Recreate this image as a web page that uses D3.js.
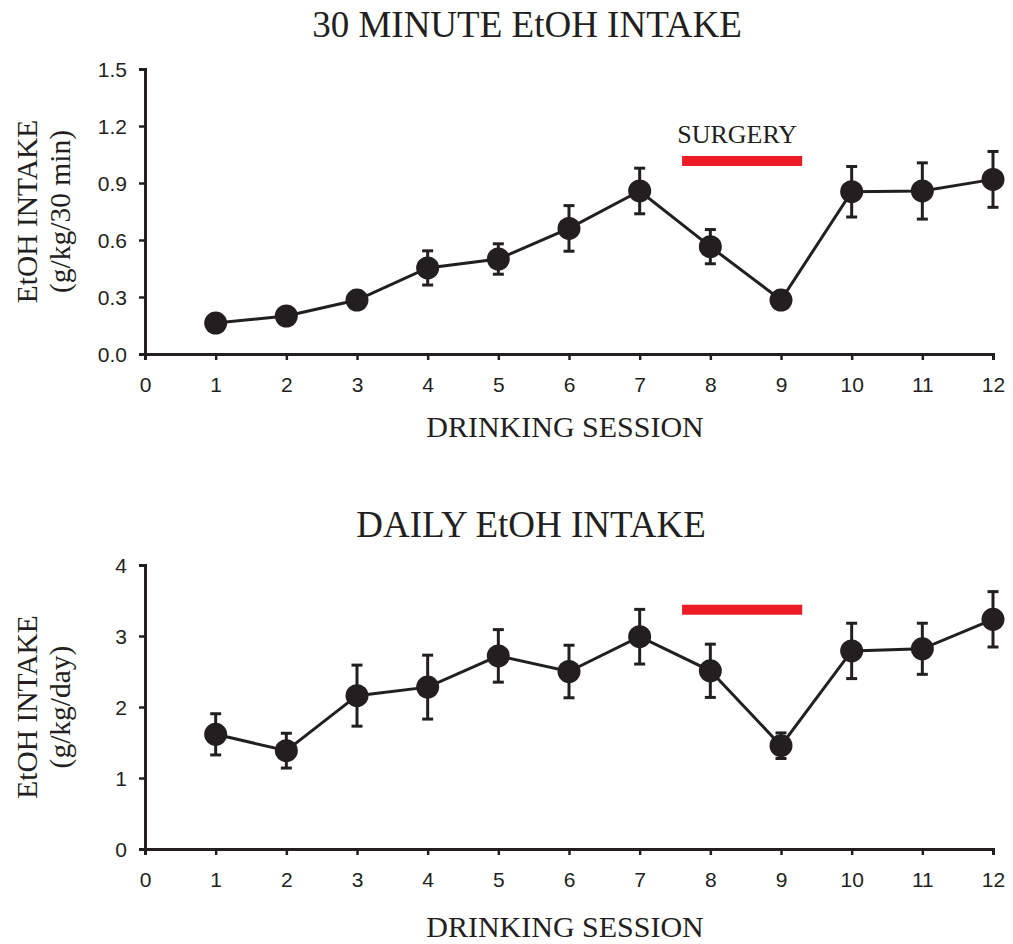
<!DOCTYPE html>
<html>
<head>
<meta charset="utf-8">
<script src="https://cdn.jsdelivr.net/npm/d3@7"></script>
<style>
  html, body { margin: 0; padding: 0; background: #fff; }
  svg { display: block; }
  .tick text { font-family: "Liberation Sans", Arial, sans-serif; font-size: 21px; fill: #231f20; }
  .serif { font-family: "Liberation Serif", "Times New Roman", serif; fill: #231f20; }
</style>
</head>
<body>
<svg id="chart" width="1013" height="944"></svg>
<script>
// ---- data ----
const sessions = [1, 2, 3, 4, 5, 6, 7, 8, 9, 10, 11, 12];
const thirtyMinMean = [0.163, 0.20, 0.284, 0.453, 0.50, 0.661, 0.858, 0.565, 0.284, 0.854, 0.858, 0.919];
const thirtyMinSem  = [0.02, 0.04, 0.04, 0.09, 0.08, 0.12, 0.12, 0.09, 0.02, 0.133, 0.148, 0.147];
const dailyMean = [1.615, 1.385, 2.16, 2.28, 2.72, 2.50, 2.99, 2.51, 1.455, 2.79, 2.82, 3.235];
const dailySem  = [0.29, 0.245, 0.43, 0.45, 0.37, 0.37, 0.385, 0.375, 0.18, 0.39, 0.36, 0.39];
const xTicks = [0, 1, 2, 3, 4, 5, 6, 7, 8, 9, 10, 11, 12];
const thirtyMinTicks = [0, 0.3, 0.6, 0.9, 1.2, 1.5];
const dailyTicks = [0, 1, 2, 3, 4];
const surgerySpan = [7.6, 9.3];
const surgeryLevelTop = 1.016;
const surgeryLevelBottom = 3.37;
const titles = ["30 MINUTE EtOH INTAKE", "DAILY EtOH INTAKE"];
const yLabels = [["EtOH INTAKE", "(g/kg/30 min)"], ["EtOH INTAKE", "(g/kg/day)"]];
const xLabel = "DRINKING SESSION";

const ink = "#231f20";
const red = "#ed1c24";
const svg = d3.select("#chart");

const x = d3.scaleLinear().domain([0, 12]).range([145, 993]);

function panel(cfg) {
  const y = d3.scaleLinear().domain(cfg.domain).range(cfg.yRange);
  const g = svg.append("g");

  // title
  g.append("text").attr("class", "serif")
    .attr("x", cfg.titleX).attr("y", cfg.titleY)
    .attr("text-anchor", "middle").attr("font-size", 37)
    .text(cfg.title);

  // y label (two lines)
  const cy = (cfg.yRange[0] + cfg.yRange[1]) / 2;
  cfg.yLabel.forEach((t, i) => {
    g.append("text").attr("class", "serif")
      .attr("transform", `translate(${37 + i * 33},${cy}) rotate(-90)`)
      .attr("text-anchor", "middle").attr("font-size", 29.5)
      .text(t);
  });

  // x label
  g.append("text").attr("class", "serif")
    .attr("x", 565).attr("y", cfg.xLabelY)
    .attr("text-anchor", "middle").attr("font-size", 30)
    .text(xLabel);

  // axes
  const yAxis = d3.axisLeft(y).tickValues(cfg.ticks).tickFormat(cfg.fmt).tickSize(6).tickPadding(12);
  const ga = g.append("g").attr("transform", `translate(${x(0)},0)`).call(yAxis);
  const xAxis = d3.axisBottom(x).tickValues(xTicks).tickFormat(d3.format("d")).tickSize(6).tickPadding(17);
  const gx = g.append("g").attr("transform", `translate(0,${cfg.yRange[0]})`).call(xAxis);
  [ga, gx].forEach(a => {
    a.select(".domain").attr("stroke", ink).attr("stroke-width", 3);
    a.selectAll(".tick line").attr("stroke", ink).attr("stroke-width", 2.5);
  });
  ga.selectAll(".tick text").attr("dy", "0.36em");

  // surgery bar
  g.append("rect")
    .attr("x", x(surgerySpan[0])).attr("width", x(surgerySpan[1]) - x(surgerySpan[0]))
    .attr("y", y(cfg.surgeryLevel) - 5).attr("height", 10)
    .attr("fill", red);
  if (cfg.surgeryText) {
    g.append("text").attr("class", "serif")
      .attr("x", (x(surgerySpan[0]) + x(surgerySpan[1])) / 2 - 5)
      .attr("y", y(cfg.surgeryLevel) - 18)
      .attr("text-anchor", "middle").attr("font-size", 26)
      .text("SURGERY");
  }

  const data = sessions.map((s, i) => ({ s, m: cfg.mean[i], e: cfg.sem[i] }));

  // line
  g.append("path").datum(data)
    .attr("fill", "none").attr("stroke", ink).attr("stroke-width", 3)
    .attr("d", d3.line().x(d => x(d.s)).y(d => y(d.m)));

  // error bars
  const eb = g.append("g").attr("stroke", ink).attr("stroke-width", 3);
  data.forEach(d => {
    eb.append("line").attr("x1", x(d.s)).attr("x2", x(d.s)).attr("y1", y(d.m - d.e)).attr("y2", y(d.m + d.e));
    [d.m - d.e, d.m + d.e].forEach(v => {
      eb.append("line").attr("x1", x(d.s) - 5.5).attr("x2", x(d.s) + 5.5).attr("y1", y(v)).attr("y2", y(v));
    });
  });

  // markers
  g.append("g").selectAll("circle").data(data).join("circle")
    .attr("cx", d => x(d.s)).attr("cy", d => y(d.m)).attr("r", 11.5)
    .attr("fill", ink);
}

panel({
  domain: [0, 1.5], yRange: [354, 69], ticks: thirtyMinTicks, fmt: d3.format(".1f"),
  title: titles[0], titleX: 527, titleY: 37, yLabel: yLabels[0], xLabelY: 437,
  mean: thirtyMinMean, sem: thirtyMinSem, surgeryLevel: surgeryLevelTop, surgeryText: true
});
panel({
  domain: [0, 4], yRange: [849, 565], ticks: dailyTicks, fmt: d3.format("d"),
  title: titles[1], titleX: 531, titleY: 537, yLabel: yLabels[1], xLabelY: 937,
  mean: dailyMean, sem: dailySem, surgeryLevel: surgeryLevelBottom, surgeryText: false
});
</script>
</body>
</html>
